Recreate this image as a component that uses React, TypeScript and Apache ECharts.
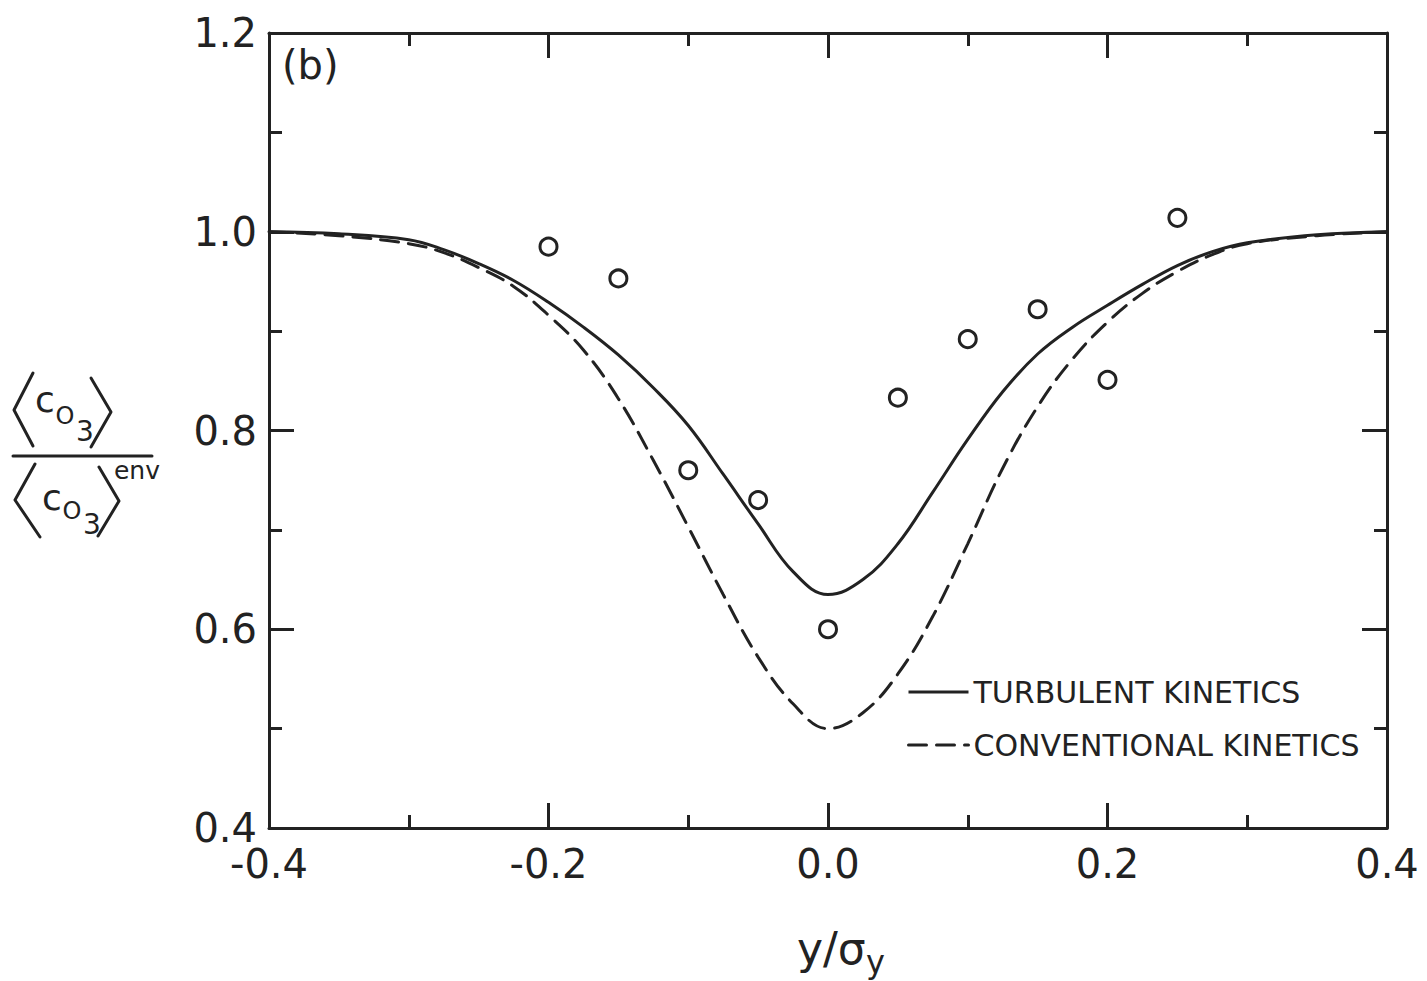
import React, { useEffect, useRef } from "react";
import * as echarts from "echarts";

// Curve sample positions (y / sigma_y)
const curveX = [-0.4, -0.35, -0.3, -0.275, -0.25, -0.225, -0.2, -0.175, -0.15, -0.125, -0.1, -0.075, -0.05, -0.025, 0, 0.025, 0.05, 0.075, 0.1, 0.125, 0.15, 0.175, 0.2, 0.225, 0.25, 0.275, 0.3, 0.35, 0.4];
// Turbulent kinetics (solid)
const turbulent = [1.0, 0.998, 0.992, 0.982, 0.968, 0.951, 0.929, 0.904, 0.876, 0.843, 0.805, 0.756, 0.706, 0.658, 0.635, 0.65, 0.686, 0.738, 0.791, 0.839, 0.877, 0.904, 0.926, 0.947, 0.966, 0.98, 0.989, 0.997, 1.0];
// Conventional kinetics (dashed)
const conventional = [1.0, 0.996, 0.988, 0.979, 0.964, 0.945, 0.916, 0.881, 0.832, 0.77, 0.703, 0.635, 0.572, 0.525, 0.5, 0.516, 0.555, 0.613, 0.686, 0.762, 0.824, 0.872, 0.909, 0.938, 0.96, 0.977, 0.988, 0.996, 1.0];
// Observations (open circles)
const obsX = [-0.2, -0.15, -0.1, -0.05, 0, 0.05, 0.1, 0.15, 0.2, 0.25];
const observed = [0.985, 0.953, 0.76, 0.73, 0.6, 0.833, 0.892, 0.922, 0.851, 1.014];

const seriesNames = ["TURBULENT KINETICS", "CONVENTIONAL KINETICS"];
const INK = "#222";
const FONT = "DejaVu Sans";

export default function App() {
  const ref = useRef<HTMLDivElement>(null);
  useEffect(() => {
    if (!ref.current) return;
    const chart = echarts.init(ref.current, undefined, { renderer: "svg" });
    const axisCommon = {
      type: "value" as const,
      axisLine: { show: true, onZero: false, lineStyle: { color: INK, width: 3 } },
      axisTick: { show: true, inside: true, length: 25, lineStyle: { color: INK, width: 3 } },
      minorTick: { show: true, splitNumber: 2, length: 13, lineStyle: { color: INK, width: 3 } },
      splitLine: { show: false },
      minorSplitLine: { show: false },
    };
    const labelStyle = {
      fontSize: 40,
      fontFamily: FONT,
      color: INK,
      formatter: (v: number) => v.toFixed(1),
    };
    const txt = (text: string, x: number, y: number, size: number, align = "left") => ({
      type: "text",
      x,
      y,
      style: { text, fontSize: size, fontFamily: FONT, fill: INK, align, verticalAlign: "middle" },
    });
    const line = (points: number[][]) => ({
      type: "polyline",
      shape: { points },
      style: { stroke: INK, lineWidth: 3, fill: null, lineJoin: "round", lineCap: "round" },
    });
    chart.setOption({
      animation: false,
      backgroundColor: "#fff",
      grid: { left: 269, right: 40, top: 33, bottom: 153, containLabel: false },
      legend: {
        data: seriesNames,
        orient: "vertical",
        left: 907,
        top: 676,
        padding: 0,
        itemWidth: 60,
        itemHeight: 14,
        itemGap: 21,
        itemStyle: { opacity: 0 },
        lineStyle: { width: 3 },
        textStyle: { fontSize: 30, fontFamily: FONT, color: INK, lineHeight: 32 },
      },
      xAxis: [
        { ...axisCommon, min: -0.4, max: 0.4, interval: 0.2, position: "bottom", axisLabel: { ...labelStyle, margin: 18, lineHeight: 36 } },
        { ...axisCommon, min: -0.4, max: 0.4, interval: 0.2, position: "top", axisLabel: { show: false } },
      ],
      yAxis: [
        { ...axisCommon, min: 0.4, max: 1.2, interval: 0.2, position: "left", axisLabel: { ...labelStyle, margin: 12, lineHeight: 34 } },
        { ...axisCommon, min: 0.4, max: 1.2, interval: 0.2, position: "right", axisLabel: { show: false } },
      ],
      series: [
        {
          name: seriesNames[0],
          type: "line",
          data: curveX.map((x, i) => [x, turbulent[i]]),
          smooth: 0.4,
          symbol: "none",
          lineStyle: { color: INK, width: 3 },
          itemStyle: { color: INK },
          z: 2,
        },
        {
          name: seriesNames[1],
          type: "line",
          data: curveX.map((x, i) => [x, conventional[i]]),
          smooth: 0.4,
          symbol: "none",
          lineStyle: { color: INK, width: 3, type: [18, 10], cap: "round" },
          itemStyle: { color: INK },
          z: 2,
        },
        {
          name: "observed",
          type: "scatter",
          data: obsX.map((x, i) => [x, observed[i]]),
          symbol: "circle",
          symbolSize: 17,
          itemStyle: { color: "#fff", borderColor: INK, borderWidth: 3, opacity: 1 },
          z: 5,
        },
      ],
      graphic: [
        txt("(b)", 282, 65, 40),
        // x-axis title y/σy
        txt("y/σ", 797, 948, 44),
        txt("y", 866, 962, 32),
        // y-axis title: <c_O3> / <c_O3>^env
        line([[33, 373], [14, 410], [33, 446]]),
        txt("c", 45, 399, 36, "center"),
        txt("O", 65, 416, 24, "center"),
        txt("3", 85, 431, 28, "center"),
        line([[91, 378], [111, 412], [91, 447]]),
        line([[13, 456], [152, 456]]),
        line([[35, 464], [15, 500], [40, 537]]),
        txt("c", 52, 497, 36, "center"),
        txt("O", 72, 511, 24, "center"),
        txt("3", 92, 524, 28, "center"),
        line([[99, 467], [119, 501], [98, 536]]),
        txt("env", 137, 470, 25, "center"),
      ],
    });
    return () => chart.dispose();
  }, []);
  return (
    <div
      ref={ref}
      style={{ position: "absolute", left: 0, top: 0, width: 1427, height: 981, background: "#fff" }}
    />
  );
}
